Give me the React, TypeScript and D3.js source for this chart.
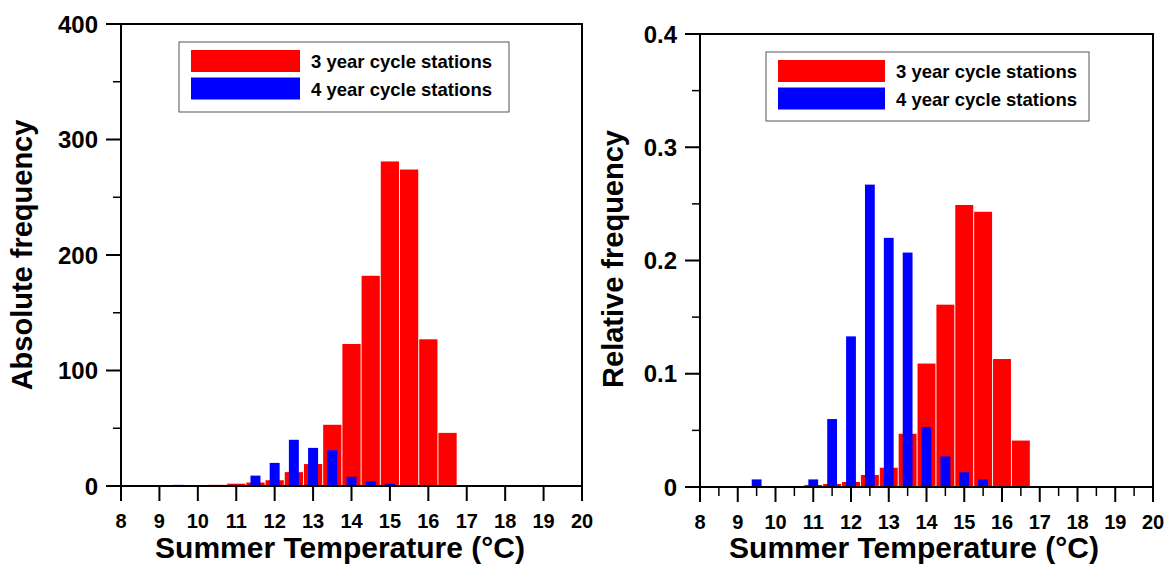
import React from "react";
import * as d3 from "d3";

// bin centres (°C) and values
const redTemps = [10.5, 11, 11.5, 12, 12.5, 13, 13.5, 14, 14.5, 15, 15.5, 16, 16.5];
const redCounts = [1, 2, 3, 5, 12, 19, 53, 123, 182, 281, 274, 127, 46];
const redRel = [0.0009, 0.0018, 0.0027, 0.0044, 0.0106, 0.017, 0.047, 0.109, 0.161, 0.249, 0.243, 0.113, 0.041];

const blueTemps = [9.5, 11, 11.5, 12, 12.5, 13, 13.5, 14, 14.5, 15, 15.5];
const blueCounts = [1, 1, 9, 20, 40, 33, 31, 8, 4, 2, 1];
const blueRel = [0.0067, 0.0067, 0.06, 0.133, 0.267, 0.22, 0.207, 0.053, 0.027, 0.013, 0.0067];

const xTicks = [8, 9, 10, 11, 12, 13, 14, 15, 16, 17, 18, 19, 20];
const absTicks = [0, 100, 200, 300, 400];
const relTicks = [0, 0.1, 0.2, 0.3, 0.4];

const seriesNames = ["3 year cycle stations", "4 year cycle stations"];
const RED = "#ff0000";
const BLUE = "#0000ff";
const FONT = "'Liberation Sans', Arial, Helvetica, sans-serif";

const Panel = ({ box, yMax, yTicks, yMinorStep, red, blue, yLabel, xMinor, legend, labelX }) => {
  const x = d3.scaleLinear().domain([8, 20]).range([box.left, box.right]);
  const y = d3.scaleLinear().domain([0, yMax]).range([box.bottom, box.top]);

  const yMinor = d3.range(yMinorStep, yMax, yMinorStep * 2);
  const xHalf = xMinor ? xTicks.slice(0, -1).map(t => t + 0.5) : [];

  const bar = (t, v, w, color, i) => (
    <rect
      key={color + i}
      x={x(t - w / 2)}
      y={y(v)}
      width={x(t + w / 2) - x(t - w / 2)}
      height={y(0) - y(v)}
      fill={color}
    />
  );

  return (
    <g fontFamily={FONT} fontWeight="bold">
      {red.t.map((t, i) => bar(t, red.v[i], 0.475, RED, i))}
      {blue.t.map((t, i) => bar(t, blue.v[i], 0.26, BLUE, i))}

      <rect x={box.left} y={box.top} width={box.right - box.left} height={box.bottom - box.top}
        fill="none" stroke="#000" strokeWidth={2} />

      {/* y axis */}
      {yTicks.map(t => (
        <g key={"y" + t}>
          <line x1={box.left - 15} x2={box.left} y1={y(t)} y2={y(t)} stroke="#000" strokeWidth={2} />
          <text x={box.left - 23} y={y(t)} dy="0.36em" textAnchor="end" fontSize={24}>{String(t)}</text>
        </g>
      ))}
      {yMinor.map(t => (
        <line key={"ym" + t} x1={box.left - 8} x2={box.left} y1={y(t)} y2={y(t)} stroke="#000" strokeWidth={1.5} />
      ))}

      {/* x axis */}
      {xTicks.map(t => (
        <g key={"x" + t}>
          <line x1={x(t)} x2={x(t)} y1={box.bottom} y2={box.bottom + 15} stroke="#000" strokeWidth={2} />
          <text x={x(t)} y={box.bottom + 42} textAnchor="middle" fontSize={20}>{t}</text>
        </g>
      ))}
      {xHalf.map(t => (
        <line key={"xm" + t} x1={x(t)} x2={x(t)} y1={box.bottom} y2={box.bottom + 9} stroke="#000" strokeWidth={1.5} />
      ))}

      <text x={labelX} y={558} textAnchor="middle" fontSize={30}>Summer Temperature (°C)</text>
      <text transform={`translate(${yLabel.x},${yLabel.y}) rotate(-90)`} textAnchor="middle" fontSize={29}>
        {yLabel.text}
      </text>

      {/* legend */}
      <rect x={legend.x} y={legend.y} width={legend.w} height={legend.h} fill="#fff" stroke="#555" strokeWidth={1} />
      {seriesNames.map((name, i) => (
        <g key={name}>
          <rect x={legend.x + 12} y={legend.y + 8 + i * 27.5} width={legend.sw} height={22} fill={i === 0 ? RED : BLUE} />
          <text x={legend.x + legend.sw + 23} y={legend.y + 26 + i * 27.5} fontSize={18.5}>{name}</text>
        </g>
      ))}
    </g>
  );
};

export default function App() {
  return (
    <svg width={1166} height={564} style={{ position: "absolute", left: 0, top: 0, background: "#fff" }}>
      <Panel
        box={{ left: 121, right: 582, top: 24, bottom: 486 }}
        yMax={400}
        yTicks={absTicks}
        yMinorStep={50}
        red={{ t: redTemps, v: redCounts }}
        blue={{ t: blueTemps, v: blueCounts }}
        yLabel={{ x: 32, y: 255, text: "Absolute frequency" }}
        xMinor={false}
        labelX={340}
        legend={{ x: 179, y: 42, w: 330, h: 70, sw: 109 }}
      />
      <Panel
        box={{ left: 700, right: 1153, top: 34, bottom: 487 }}
        yMax={0.4}
        yTicks={relTicks}
        yMinorStep={0.05}
        red={{ t: redTemps, v: redRel }}
        blue={{ t: blueTemps, v: blueRel }}
        yLabel={{ x: 623, y: 259, text: "Relative frequency" }}
        xMinor={true}
        labelX={914}
        legend={{ x: 766, y: 52, w: 323, h: 69, sw: 107 }}
      />
    </svg>
  );
}
